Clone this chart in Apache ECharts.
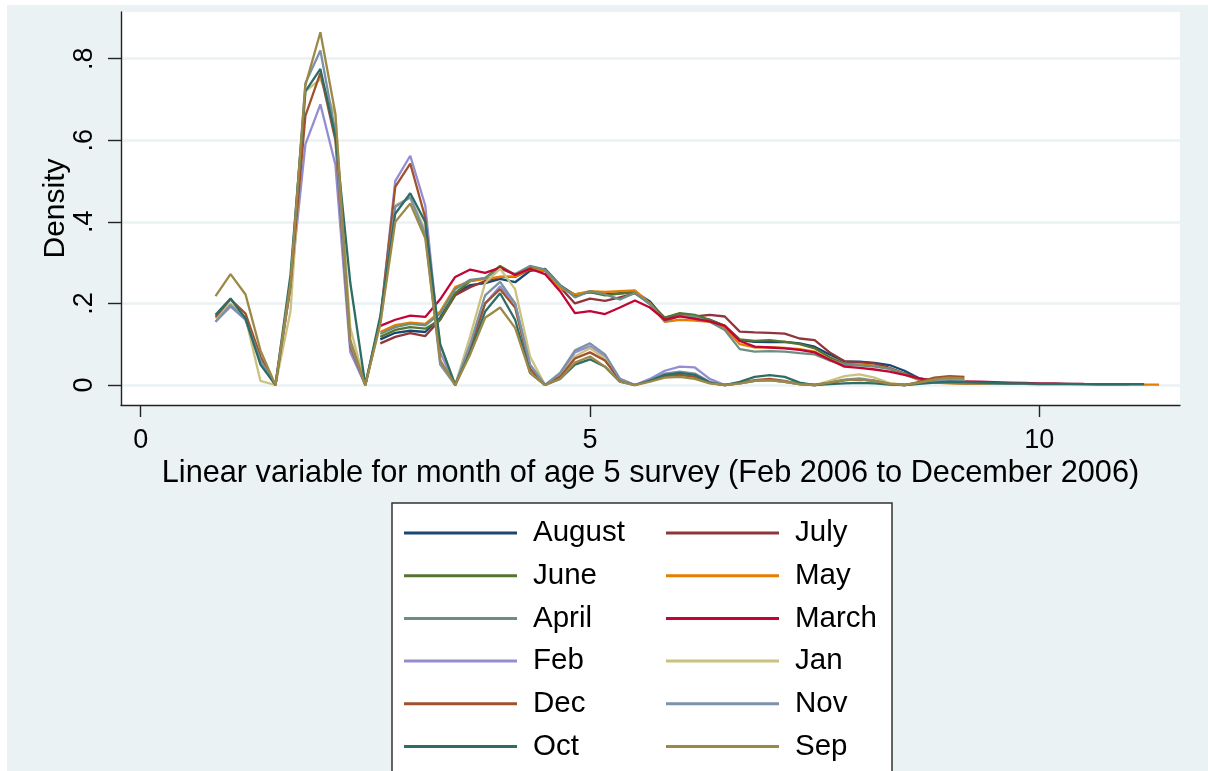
<!DOCTYPE html>
<html>
<head>
<meta charset="utf-8">
<script src="https://cdn.jsdelivr.net/npm/echarts@6.0.0/dist/echarts.min.js"></script>
<style>
  html, body { margin: 0; padding: 0; background: #fff; }
  #chart { position: absolute; left: 7px; top: 5px; width: 1201px; height: 766px; }
</style>
</head>
<body>
<div id="chart"></div>
<script>
// kdensity evaluation grid (months), shared by all series
const gridX = [0.833, 1.0, 1.167, 1.333, 1.5, 1.667, 1.833, 2.0, 2.167, 2.333,
  2.5, 2.667, 2.833, 3.0, 3.167, 3.333, 3.5, 3.667, 3.833, 4.0,
  4.167, 4.333, 4.5, 4.667, 4.833, 5.0, 5.167, 5.333, 5.5, 5.667,
  5.833, 6.0, 6.167, 6.333, 6.5, 6.667, 6.833, 7.0, 7.167, 7.333,
  7.5, 7.667, 7.833, 8.0, 8.167, 8.333, 8.5, 8.667, 8.833, 9.0,
  9.167, 9.333, 9.5, 9.667, 9.833, 10.0, 10.167, 10.333, 10.5, 10.667,
  10.833, 11.0, 11.167, 11.333];

const xTicks = [0, 5, 10];
const yTicks = [0, 0.2, 0.4, 0.6, 0.8];
const yTickLabels = ['0', '.2', '.4', '.6', '.8'];

// series starting at 2.667 (grid index 11)
const august = [0.112, 0.128, 0.133, 0.13, 0.165, 0.225, 0.245, 0.25, 0.26, 0.252,
  0.28, 0.285, 0.245, 0.22, 0.228, 0.222, 0.225, 0.228, 0.205, 0.162,
  0.17, 0.165, 0.16, 0.145, 0.11, 0.106, 0.105, 0.106, 0.102, 0.094,
  0.075, 0.058, 0.057, 0.054, 0.049, 0.035, 0.016, 0.01, 0.008, 0.007,
  0.006, 0.005];
const july = [0.102, 0.118, 0.127, 0.12, 0.16, 0.22, 0.24, 0.255, 0.265, 0.265,
  0.283, 0.28, 0.24, 0.2, 0.212, 0.206, 0.215, 0.225, 0.2, 0.165,
  0.172, 0.168, 0.172, 0.168, 0.131, 0.129, 0.128, 0.126, 0.114, 0.11,
  0.08, 0.058, 0.056, 0.053, 0.042, 0.028, 0.014, 0.01, 0.009, 0.008,
  0.007, 0.006];
const june = [0.118, 0.135, 0.142, 0.138, 0.16, 0.225, 0.255, 0.262, 0.292, 0.27,
  0.29, 0.282, 0.24, 0.222, 0.228, 0.22, 0.224, 0.228, 0.2, 0.165,
  0.176, 0.172, 0.16, 0.145, 0.112, 0.108, 0.11, 0.106, 0.1, 0.09,
  0.068, 0.052, 0.05, 0.047, 0.04, 0.028, 0.014, 0.009, 0.007, 0.006,
  0.005, 0.005];
const may = [0.13, 0.147, 0.153, 0.15, 0.18, 0.24, 0.255, 0.26, 0.265, 0.266,
  0.285, 0.28, 0.238, 0.222, 0.23, 0.228, 0.23, 0.232, 0.2, 0.155,
  0.16, 0.158, 0.155, 0.14, 0.1, 0.092, 0.093, 0.091, 0.088, 0.082,
  0.062, 0.05, 0.05, 0.047, 0.04, 0.026, 0.012, 0.006, 0.004, 0.003,
  0.003, 0.003, 0.003, 0.003, 0.002, 0.002, 0.002, 0.002, 0.001, 0.001,
  0.001, 0.001, 0.001];
const april = [0.125, 0.142, 0.15, 0.146, 0.175, 0.235, 0.258, 0.262, 0.285, 0.272,
  0.292, 0.283, 0.245, 0.215, 0.23, 0.222, 0.21, 0.226, 0.198, 0.156,
  0.17, 0.168, 0.155, 0.135, 0.088, 0.082, 0.083, 0.082, 0.078, 0.075,
  0.06, 0.05, 0.048, 0.045, 0.04, 0.026, 0.013, 0.007, 0.005, 0.004,
  0.004, 0.003, 0.003, 0.003, 0.002, 0.002, 0.002, 0.002, 0.001, 0.001,
  0.001];
const march = [0.145, 0.16, 0.17, 0.167, 0.21, 0.265, 0.283, 0.275, 0.288, 0.27,
  0.285, 0.272, 0.23, 0.176, 0.181, 0.174, 0.19, 0.207, 0.19, 0.16,
  0.168, 0.162, 0.156, 0.145, 0.108, 0.094, 0.092, 0.09, 0.086, 0.08,
  0.062, 0.045, 0.042, 0.038, 0.033, 0.025, 0.016, 0.01, 0.009, 0.008,
  0.008, 0.007, 0.006, 0.005, 0.004, 0.004, 0.003, 0.003];

// series starting at 0.833 (grid index 0)
const feb = [0.155, 0.192, 0.16, 0.06, 0.0, 0.24, 0.59, 0.688, 0.54, 0.08,
  0.0, 0.16, 0.5, 0.562, 0.44, 0.08, 0.0, 0.09, 0.2, 0.242,
  0.2, 0.05, 0.0, 0.025, 0.08, 0.095, 0.07, 0.015, 0.0, 0.015,
  0.035, 0.045, 0.043, 0.015, 0.0, 0.004, 0.01, 0.012, 0.008, 0.002,
  0.0, 0.005, 0.012, 0.014, 0.01, 0.003, 0.0, 0.004, 0.01, 0.012,
  0.01];
const jan = [0.163, 0.2, 0.165, 0.01, 0.0, 0.18, 0.72, 0.75, 0.66, 0.14,
  0.0, 0.15, 0.44, 0.46, 0.38, 0.1, 0.0, 0.12, 0.25, 0.285,
  0.235, 0.07, 0.0, 0.02, 0.07, 0.09, 0.065, 0.012, 0.0, 0.01,
  0.025, 0.028, 0.022, 0.006, 0.0, 0.004, 0.01, 0.012, 0.008, 0.002,
  0.0, 0.01, 0.022, 0.026, 0.018, 0.005, 0.0, 0.005, 0.012, 0.014,
  0.01];
const dec = [0.167, 0.21, 0.175, 0.07, 0.0, 0.24, 0.66, 0.765, 0.6, 0.094,
  0.0, 0.16, 0.486, 0.543, 0.41, 0.06, 0.0, 0.09, 0.2, 0.235,
  0.19, 0.04, 0.0, 0.02, 0.065, 0.08, 0.06, 0.012, 0.0, 0.01,
  0.022, 0.025, 0.02, 0.005, 0.0, 0.005, 0.012, 0.015, 0.01, 0.002,
  0.0, 0.005, 0.012, 0.014, 0.01, 0.003, 0.0, 0.008, 0.018, 0.022,
  0.02];
const nov = [0.155, 0.196, 0.16, 0.06, 0.0, 0.25, 0.74, 0.82, 0.62, 0.1,
  0.0, 0.16, 0.437, 0.46, 0.37, 0.05, 0.0, 0.1, 0.22, 0.253,
  0.2, 0.05, 0.0, 0.03, 0.085, 0.102, 0.075, 0.015, 0.0, 0.012,
  0.028, 0.033, 0.028, 0.008, 0.0, 0.004, 0.01, 0.012, 0.008, 0.002,
  0.0, 0.006, 0.013, 0.016, 0.011, 0.003, 0.0, 0.005, 0.01, 0.012,
  0.01];
const oct = [0.172, 0.212, 0.163, 0.05, 0.0, 0.27, 0.72, 0.775, 0.61, 0.25,
  0.0, 0.17, 0.42, 0.47, 0.4, 0.1, 0.0, 0.08, 0.18, 0.225,
  0.16, 0.03, 0.0, 0.015, 0.05, 0.063, 0.045, 0.008, 0.0, 0.01,
  0.025, 0.03, 0.025, 0.006, 0.0, 0.008, 0.02, 0.024, 0.02, 0.006,
  0.0, 0.002, 0.004, 0.005, 0.004, 0.001, 0.0, 0.003, 0.006, 0.008,
  0.007, 0.006, 0.005, 0.004, 0.004, 0.003, 0.003, 0.003, 0.002, 0.002,
  0.002, 0.002, 0.002];
const sep = [0.218, 0.272, 0.222, 0.085, 0.0, 0.25, 0.735, 0.865, 0.665, 0.11,
  0.0, 0.15, 0.4, 0.445, 0.36, 0.06, 0.0, 0.075, 0.165, 0.19,
  0.14, 0.03, 0.0, 0.015, 0.055, 0.07, 0.045, 0.008, 0.0, 0.008,
  0.018, 0.02, 0.015, 0.004, 0.0, 0.004, 0.01, 0.012, 0.008, 0.002,
  0.0, 0.006, 0.012, 0.014, 0.01, 0.003, 0.0, 0.006, 0.014, 0.018,
  0.015];

// name, values, first grid index, colour (Stata s2color)
const seriesList = [
  ['August', august, 11, '#1a476f'],
  ['July', july, 11, '#90353b'],
  ['June', june, 11, '#55752f'],
  ['May', may, 11, '#e37e00'],
  ['April', april, 11, '#6e8e84'],
  ['March', march, 11, '#c10534'],
  ['Feb', feb, 0, '#938dd2'],
  ['Jan', jan, 0, '#cac27e'],
  ['Dec', dec, 0, '#a0522d'],
  ['Nov', nov, 0, '#7b92a8'],
  ['Oct', oct, 0, '#2d6d66'],
  ['Sep', sep, 0, '#9c8847']
];

const font = '"Liberation Sans", Arial, Helvetica, sans-serif';
const chart = echarts.init(document.getElementById('chart'));

const legendBase = {
  orient: 'vertical',
  top: 513,
  padding: 0,
  icon: 'rect',
  itemWidth: 113,
  itemHeight: 3,
  itemGap: 12.7,
  selectedMode: false,
  textStyle: { fontSize: 29.5, lineHeight: 30, color: '#000', fontFamily: font, padding: [0, 0, 0, 11] }
};

const option = {
  animation: false,
  backgroundColor: '#eaf2f3',
  grid: { left: 114, top: 7, width: 1059, height: 393, show: true, backgroundColor: '#fff', borderWidth: 0 },
  xAxis: {
    type: 'value',
    min: -0.219,
    max: 11.566,
    name: 'Linear variable for month of age 5 survey (Feb 2006 to December 2006)',
    nameLocation: 'middle',
    nameGap: 53,
    nameMoveOverlap: false,
    nameTextStyle: { fontSize: 30.7, color: '#000', fontFamily: font },
    axisLine: { show: true, onZero: false, lineStyle: { color: '#222', width: 1.4 } },
    axisTick: { show: true, customValues: xTicks, length: 12, lineStyle: { color: '#222', width: 1.4 } },
    axisLabel: { customValues: xTicks, fontSize: 27, margin: 22, color: '#000', fontFamily: font },
    splitLine: { show: false }
  },
  yAxis: {
    type: 'value',
    min: -0.049,
    max: 0.9145,
    name: 'Density',
    nameLocation: 'middle',
    nameRotate: 90,
    nameGap: 50,
    nameMoveOverlap: false,
    nameTextStyle: { fontSize: 30, color: '#000', fontFamily: font },
    axisLine: { show: true, onZero: false, lineStyle: { color: '#222', width: 1.4 } },
    axisTick: { show: true, customValues: yTicks, length: 13, lineStyle: { color: '#222', width: 1.4 } },
    axisLabel: {
      customValues: yTicks,
      rotate: 90,
      fontSize: 27,
      margin: 23,
      color: '#000',
      fontFamily: font,
      formatter: v => yTickLabels[yTicks.indexOf(Math.round(v * 10) / 10)]
    },
    splitLine: { show: true, lineStyle: { color: '#eaf2f3', width: 2.5 } }
  },
  legend: [
    Object.assign({}, legendBase, { left: 397, data: ['August', 'June', 'April', 'Feb', 'Dec', 'Oct'] }),
    Object.assign({}, legendBase, { left: 659, data: ['July', 'May', 'March', 'Jan', 'Nov', 'Sep'] })
  ],
  graphic: [{
    type: 'rect',
    z: 0,
    shape: { x: 385, y: 498, width: 500, height: 320 },
    style: { fill: '#fff', stroke: '#333', lineWidth: 1.5 }
  }],
  series: seriesList.map(([name, vals, start, color]) => ({
    name: name,
    type: 'line',
    data: vals.map((y, i) => [gridX[start + i], y]),
    symbol: 'none',
    color: color,
    lineStyle: { width: 2.3, color: color },
    emphasis: { disabled: true }
  }))
};

chart.setOption(option);
</script>
</body>
</html>
